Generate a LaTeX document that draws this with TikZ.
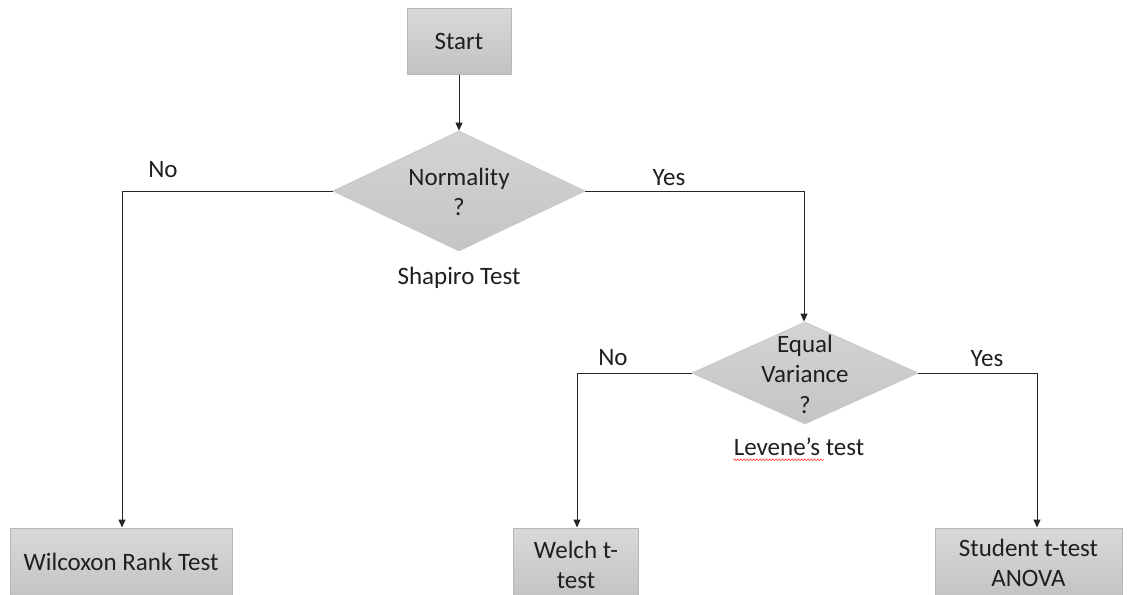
\documentclass[tikz,border=0pt]{standalone}
\usepackage{fontspec}
\setmainfont{Carlito}
\usetikzlibrary{arrows.meta,shapes.geometric,decorations.pathmorphing}
\begin{document}
\begin{tikzpicture}[x=1pt,y=-1pt,
  every node/.style={font=\fontsize{25}{30.5}\selectfont, text=black!88, inner sep=0pt, align=center},
  box/.style={rectangle, draw=black!28, line width=1pt, top color=black!15, bottom color=black!24},
  dia/.style={diamond, draw=black!22, line width=0.8pt, top color=black!17, bottom color=black!23},
  conn/.style={draw=black!85, line width=1pt, -{Triangle[length=8pt,width=7pt]}},
  squiggle/.style={draw=red!75, line width=0.6pt, decorate,
    decoration={snake, amplitude=0.9pt, segment length=3.2pt}}]
\clip (0,0) rectangle (1131,594);
\fill[white] (0,0) rectangle (1131,594);

% process boxes
\node[box, minimum width=104, minimum height=65] (start) at (459,41.5) {Start};
\node[box, minimum width=222, minimum height=74] (wil) at (121,565) {};
\node at (121,562) {Wilcoxon Rank Test};
\node[box, minimum width=125, minimum height=74] (welch) at (576,565) {};
\node at (576,565) {Welch t-\\test};
\node[box, minimum width=187, minimum height=74] (stud) at (1028.5,565) {};
\node at (1028.5,563) {Student t-test\\ANOVA};

% decisions
\node[dia, minimum width=252, minimum height=120] (norm) at (459,191) {};
\node (normtxt) at (459,192) {Normality\\?};
\node[dia, minimum width=226, minimum height=102] (eqv) at (805,373) {};
\node (eqvtxt) at (805,374) {Equal\\Variance\\?};

% connectors
\draw[conn] (start.south) -- (norm.north);
\draw[conn] (norm.west) -| ([xshift=1pt]wil.north);
\draw[conn] (norm.east) -| ([xshift=-1pt]eqv.north);
\draw[conn] (eqv.west) -| ([xshift=1pt]welch.north);
\draw[conn] (eqv.east) -| ([xshift=8.5pt]stud.north);

% branch labels
\node (no1) at (163,170) {No};
\node (yes1) at (669,178) {Yes};
\node (shap) at (459,278) {Shapiro Test};
\node (no2) at (613,358) {No};
\node (yes2) at (987,359) {Yes};
\node (lev) at (799,447) {Levene’s test};
\draw[squiggle] ([yshift=-4pt]lev.base west) -- ([xshift=90pt,yshift=-4pt]lev.base west);
\end{tikzpicture}
\end{document}
